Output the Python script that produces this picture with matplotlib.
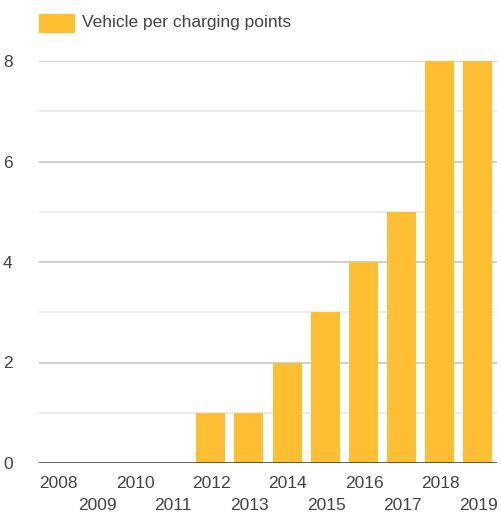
import matplotlib.pyplot as plt
import matplotlib.patches as mpatches

# data
years = ['2008', '2009', '2010', '2011', '2012', '2013',
         '2014', '2015', '2016', '2017', '2018', '2019']
vehicles_per_point = [0, 0, 0, 0, 1, 1, 2, 3, 4, 5, 8, 8]
series_name = 'Vehicle per charging points'

bar_color = '#FFBF33'
text_color = '#444444'

plt.rcParams['font.family'] = ['Liberation Sans', 'DejaVu Sans']

fig = plt.figure(figsize=(5.01, 5.14), dpi=100)
ax = fig.add_axes([39/501, 1-463/514, 458/501, (463-61)/514])

x = list(range(len(years)))
ax.bar(x, vehicles_per_point, width=0.76, color=bar_color, zorder=2)

ax.set_xlim(-0.5, len(years)-0.5)
ax.set_ylim(0, 8)

# gridlines: major every 2, minor in between
for v in [2, 4, 6, 8]:
    ax.axhline(v, color='#cccccc', lw=1.3, zorder=1)
for v in [1, 3, 5, 7]:
    ax.axhline(v, color='#ebebeb', lw=1.3, zorder=1)
ax.axhline(0, color='#333333', lw=1.8, zorder=3)

for s in ax.spines.values():
    s.set_visible(False)

ax.set_yticks([0, 2, 4, 6, 8])
ax.set_yticklabels(['0', '2', '4', '6', '8'])
ax.tick_params(axis='y', length=0, pad=19, labelsize=12.5, labelcolor=text_color)
ax.tick_params(axis='x', length=0, labelbottom=False)

# staggered year labels (even years first row, odd years second row)
axes_h = 463 - 61
for i, yr in enumerate(years):
    if i % 2 == 0:
        ypos = 483
    else:
        ypos = 505
    ax.text(i + 0.02, (463 - ypos) / axes_h, yr, ha='center', va='center',
            fontsize=12.5, color=text_color,
            transform=ax.get_xaxis_transform())

# legend drawn by hand
fig.patches.append(mpatches.Rectangle((39/501, 1-32/514), 35/501, 18/514,
                                      transform=fig.transFigure, color=bar_color))
fig.text(82/501, 1-23/514, series_name, ha='left', va='center',
         fontsize=12.5, color=text_color)

fig.savefig('out.png', dpi=100)
